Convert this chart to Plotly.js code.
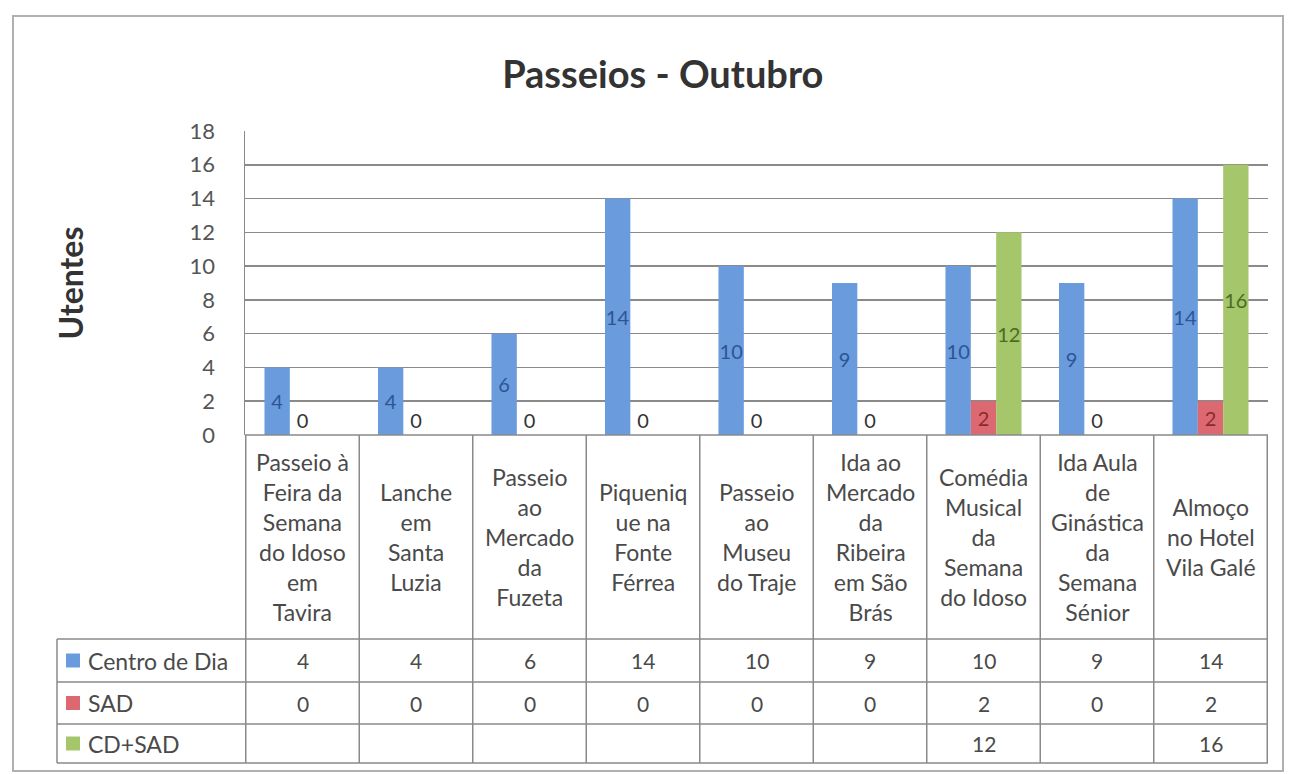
<!DOCTYPE html>
<html>
<head>
<meta charset="utf-8">
<script src="https://cdn.plot.ly/plotly-3.0.1.min.js"></script>
<style>
html,body{margin:0;padding:0;background:#fff;}
#chart{width:1297px;height:774px;}
</style>
</head>
<body>
<div id="chart"></div>
<script>
// ---- data ----
const categories = [
  "Passeio à Feira da Semana do Idoso em Tavira",
  "Lanche em Santa Luzia",
  "Passeio ao Mercado da Fuzeta",
  "Piquenique na Fonte Férrea",
  "Passeio ao Museu do Traje",
  "Ida ao Mercado da Ribeira em São Brás",
  "Comédia Musical da Semana do Idoso",
  "Ida Aula de Ginástica da Semana Sénior",
  "Almoço no Hotel Vila Galé"
];
const categoryLabels = [
  "Passeio à<br>Feira da<br>Semana<br>do Idoso<br>em<br>Tavira",
  "Lanche<br>em<br>Santa<br>Luzia",
  "Passeio<br>ao<br>Mercado<br>da<br>Fuzeta",
  "Piqueniq<br>ue na<br>Fonte<br>Férrea",
  "Passeio<br>ao<br>Museu<br>do Traje",
  "Ida ao<br>Mercado<br>da<br>Ribeira<br>em São<br>Brás",
  "Comédia<br>Musical<br>da<br>Semana<br>do Idoso",
  "Ida Aula<br>de<br>Ginástica<br>da<br>Semana<br>Sénior",
  "Almoço<br>no Hotel<br>Vila Galé"
];
const seriesNames = ["Centro de Dia", "SAD", "CD+SAD"];
const centroDeDia = [4, 4, 6, 14, 10, 9, 10, 9, 14];
const sad = [0, 0, 0, 0, 0, 0, 2, 0, 2];
const cdSad = [null, null, null, null, null, null, 12, null, 16];
const yTicks = [0, 2, 4, 6, 8, 10, 12, 14, 16, 18];

// ---- styles ----
const FONT = "Lato, 'Open Sans', sans-serif";
const colors = ["#6a9bdc", "#dc6872", "#a6c66c"];
const labelColors = ["#2d5596", "#8a2a31", "#4b6b22"];
const series = [centroDeDia, sad, cdSad];

// plot area in pixels: x 245..1268, y 131..435
const W = 1297, H = 774;
const L = 245, R = 1268, T = 131, B = 435;
const py = p => (B - p) / (B - T);   // pixel y -> paper y
const px = p => (p - L) / (R - L);   // pixel x -> paper x

const traces = series.map((vals, i) => ({
  type: "bar",
  name: seriesNames[i],
  x: categories,
  y: vals,
  marker: {color: colors[i]},
  text: vals.map(v => v === null ? "" : String(v)),
  textposition: vals.map(v => v === 0 ? "outside" : "inside"),
  insidetextanchor: "middle",
  constraintext: "none",
  insidetextfont: {family: FONT, size: 20, color: labelColors[i]},
  outsidetextfont: {family: FONT, size: 20, color: "#333"},
  cliponaxis: false,
  hoverinfo: "x+y+name"
}));

// table geometry (pixels)
const tLeft = 57;
const rowLines = [639, 682, 724, 763];
const lineColor = "#8a8a8a";
const textColor = "#4a4a4a";
const shapes = [];
// outer chart border
shapes.push({type: "rect", xref: "paper", yref: "paper",
  x0: px(13), x1: px(1283), y0: py(771), y1: py(16),
  line: {color: "#b0b0b0", width: 2}});
// horizontal table lines
shapes.push({type: "line", xref: "paper", yref: "paper", x0: 0, x1: 1, y0: 0, y1: 0, line: {color: lineColor, width: 1.5}});
rowLines.forEach(r => shapes.push({type: "line", xref: "paper", yref: "paper",
  x0: px(tLeft), x1: 1, y0: py(r), y1: py(r), line: {color: lineColor, width: 1.5}}));
// vertical table lines: left edge of row-label column
shapes.push({type: "line", xref: "paper", yref: "paper", x0: px(tLeft), x1: px(tLeft),
  y0: py(rowLines[0]), y1: py(rowLines[3]), line: {color: lineColor, width: 1.5}});
// category boundaries
for (let i = 0; i <= categories.length; i++) {
  shapes.push({type: "line", xref: "x", yref: "paper", x0: i - 0.5, x1: i - 0.5,
    y0: 0, y1: py(rowLines[3]), line: {color: lineColor, width: 1.5}});
}
// legend keys in the table
const annotations = [];
const rowCenters = [0, 1, 2].map(k => (rowLines[k] + rowLines[k + 1]) / 2);
seriesNames.forEach((n, k) => {
  shapes.push({type: "rect", xref: "paper", yref: "paper",
    x0: px(66), x1: px(80), y0: py(rowCenters[k] + 7), y1: py(rowCenters[k] - 7),
    fillcolor: colors[k], line: {width: 0}});
  annotations.push({xref: "paper", yref: "paper", x: px(86), y: py(rowCenters[k]),
    xanchor: "left", yanchor: "middle", showarrow: false, text: n,
    font: {family: FONT, size: 23, color: textColor}});
});
// header category labels
categoryLabels.forEach((c, i) => {
  annotations.push({xref: "x", yref: "paper", x: categories[i], y: py(537),
    xanchor: "center", yanchor: "middle", align: "center", showarrow: false, text: c,
    font: {family: FONT, size: 23, color: textColor}});
});
// table values
series.forEach((vals, k) => {
  vals.forEach((v, i) => {
    if (v === null) return;
    annotations.push({xref: "x", yref: "paper", x: categories[i], y: py(rowCenters[k]),
      xanchor: "center", yanchor: "middle", showarrow: false, text: String(v),
      font: {family: FONT, size: 21, color: textColor}});
  });
});

const layout = {
  width: W, height: H,
  margin: {l: L, r: W - R, t: T, b: H - B, pad: 0},
  paper_bgcolor: "#fff", plot_bgcolor: "#fff",
  title: {text: "<b>Passeios - Outubro</b>", x: 0.511, xanchor: "center", y: 1 - 75 / H, yanchor: "middle",
    font: {family: FONT, size: 38, color: "#333"}},
  showlegend: false,
  barmode: "group",
  bargap: 0.33,
  bargroupgap: 0,
  xaxis: {showticklabels: false, showgrid: false, zeroline: false, ticks: "", showline: false, fixedrange: true},
  yaxis: {range: [0, 18], tickvals: yTicks, ticktext: yTicks.map(String), showgrid: true,
    gridcolor: lineColor, gridwidth: 1.5, zeroline: false, ticks: "", ticklabelstandoff: 24,
    showline: true, linecolor: lineColor, linewidth: 1.5,
    tickfont: {family: FONT, size: 22, color: "#555"},
    title: {text: "<b>Utentes</b>", standoff: 96, font: {family: FONT, size: 32, color: "#333"}}},
  shapes: shapes,
  annotations: annotations
};

Plotly.newPlot("chart", traces, layout, {displayModeBar: false, staticPlot: true});
</script>
</body>
</html>
